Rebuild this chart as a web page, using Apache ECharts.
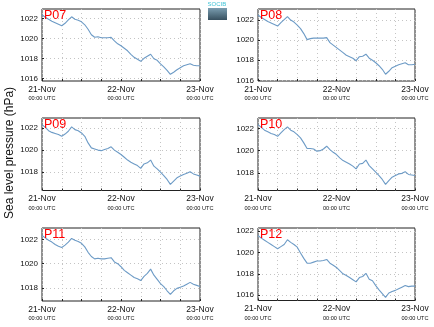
<!DOCTYPE html>
<html><head><meta charset="utf-8">
<script src="https://cdn.jsdelivr.net/npm/echarts@6/dist/echarts.min.js"></script>
<style>html,body{margin:0;padding:0;background:#fff}#c{width:434px;height:327px}</style>
</head><body><div id="c"></div>
<script>
// hours since 21-Nov 00:00 UTC (hourly)
const hours = Array.from({length: 49}, (_, i) => i);
const dateLabels = ['21-Nov', '22-Nov', '23-Nov'];
const timeLabel = '00:00 UTC';
const yTitle = 'Sea level pressure (hPa)';
const stations = ['P07', 'P08', 'P09', 'P10', 'P11', 'P12'];

const p07 = [1022.35,1022.1,1021.9,1021.7,1021.55,1021.4,1021.25,1021.5,1021.85,1022.15,1021.9,1021.8,1021.65,1021.35,1020.9,1020.35,1020.1,1020.15,1020.05,1020.05,1020.05,1020.1,1019.75,1019.45,1019.25,1019.0,1018.75,1018.4,1018.1,1017.9,1017.7,1018.0,1018.2,1018.4,1017.95,1017.8,1017.45,1017.15,1016.8,1016.4,1016.6,1016.85,1017.05,1017.25,1017.35,1017.45,1017.3,1017.25,1017.25];
const p08 = [1022.5,1022.25,1022.05,1021.85,1021.7,1021.55,1021.4,1021.75,1022.05,1022.35,1022.0,1021.8,1021.5,1021.15,1020.65,1020.05,1020.15,1020.2,1020.2,1020.2,1020.2,1020.25,1019.75,1019.5,1019.25,1019.0,1018.75,1018.5,1018.35,1018.2,1017.95,1018.35,1018.4,1018.6,1018.2,1018.0,1017.75,1017.45,1017.1,1016.6,1016.9,1017.25,1017.4,1017.55,1017.65,1017.75,1017.55,1017.55,1017.6];
const p09 = [1022.3,1022.05,1021.75,1021.6,1021.5,1021.4,1021.25,1021.45,1021.7,1022.1,1021.85,1021.75,1021.55,1021.25,1020.65,1020.2,1020.1,1020.0,1019.95,1020.05,1020.15,1020.3,1020.0,1019.8,1019.6,1019.35,1019.1,1018.9,1018.75,1018.6,1018.35,1018.75,1018.85,1019.1,1018.55,1018.3,1018.0,1017.7,1017.35,1016.9,1017.2,1017.5,1017.65,1017.8,1017.9,1018.05,1017.85,1017.75,1017.65];
const p10 = [1022.35,1022.1,1021.85,1021.7,1021.55,1021.45,1021.3,1021.6,1021.9,1022.15,1021.85,1021.7,1021.45,1021.15,1020.7,1020.2,1020.2,1020.15,1019.95,1020.0,1020.15,1020.4,1020.1,1019.85,1019.65,1019.35,1019.1,1018.95,1018.8,1018.6,1018.35,1018.8,1018.85,1019.15,1018.65,1018.35,1018.05,1017.75,1017.4,1016.95,1017.3,1017.6,1017.75,1017.9,1017.95,1018.1,1017.85,1017.8,1017.75];
const p11 = [1022.35,1022.15,1021.95,1021.8,1021.6,1021.45,1021.35,1021.55,1021.8,1022.1,1021.95,1021.85,1021.7,1021.4,1020.95,1020.6,1020.4,1020.45,1020.4,1020.4,1020.45,1020.5,1020.15,1020.0,1019.75,1019.45,1019.25,1019.05,1018.85,1018.75,1018.6,1018.95,1019.2,1019.55,1019.05,1018.7,1018.35,1018.1,1017.75,1017.45,1017.75,1017.95,1018.05,1018.15,1018.3,1018.45,1018.3,1018.2,1018.1];
const p12 = [1021.6,1021.35,1021.15,1020.95,1020.75,1020.55,1020.35,1020.55,1020.75,1021.2,1020.95,1020.75,1020.5,1019.95,1019.45,1019.0,1019.0,1019.1,1019.2,1019.2,1019.25,1019.35,1019.0,1018.8,1018.6,1018.3,1018.0,1017.85,1017.65,1017.45,1017.25,1017.65,1017.75,1018.05,1017.5,1017.35,1016.9,1016.5,1016.15,1015.8,1016.2,1016.35,1016.45,1016.6,1016.75,1016.9,1016.8,1016.85,1016.85];

const yTicks07 = [1016, 1018, 1020, 1022];
const yTicks08 = [1016, 1018, 1020, 1022];
const yTicks09 = [1018, 1020, 1022];
const yTicks10 = [1018, 1020, 1022];
const yTicks11 = [1018, 1020, 1022];
const yTicks12 = [1016, 1018, 1020, 1022];

const seriesData = [p07, p08, p09, p10, p11, p12];
const yTicks = [yTicks07, yTicks08, yTicks09, yTicks10, yTicks11, yTicks12];
const yMin = [1015.73, 1015.93, 1016.35, 1016.4, 1016.9, 1015.5];
const yMax = [1022.93, 1023.1, 1022.9, 1022.95, 1022.97, 1022.3];

const grids = [
  {left: 42, top: 9, width: 158, height: 72},
  {left: 258, top: 9, width: 157, height: 72},
  {left: 42, top: 118, width: 158, height: 72.5},
  {left: 258, top: 118, width: 157, height: 72.5},
  {left: 42, top: 228, width: 158, height: 73},
  {left: 258, top: 228, width: 157, height: 72.5}
];

const FONT = 'Liberation Sans, Arial, sans-serif';
const option = {
  animation: false,
  backgroundColor: '#fff',
  grid: grids.map(g => Object.assign({show: true, borderColor: '#222', borderWidth: 1, backgroundColor: 'transparent'}, g)),
  xAxis: grids.map((g, i) => ({
    type: 'value', gridIndex: i, min: 0, max: 48, interval: 6,
    axisLine: {show: false},
    axisTick: {show: true, inside: true, length: 2, lineStyle: {color: '#222'}},
    splitLine: {show: true, lineStyle: {color: '#c4c4c4', type: [1, 3], width: 1}},
    axisLabel: {
      showMinLabel: true, showMaxLabel: true, margin: 4, hideOverlap: false,
      formatter: v => (v % 24 === 0) ? '{d|' + dateLabels[v / 24] + '}\n{u|' + timeLabel + '}' : '',
      rich: {
        d: {fontSize: 8.5, lineHeight: 9, color: '#111', fontFamily: FONT},
        u: {fontSize: 5.6, lineHeight: 9, color: '#111', fontFamily: FONT}
      }
    }
  })),
  yAxis: grids.map((g, i) => ({
    type: 'value', gridIndex: i, min: yMin[i], max: yMax[i],
    axisLine: {show: false},
    axisTick: {show: true, inside: true, length: 2, customValues: yTicks[i], lineStyle: {color: '#222'}},
    splitLine: {show: true, lineStyle: {color: '#c4c4c4', type: [1, 3], width: 1}},
    axisLabel: {customValues: yTicks[i], formatter: v => String(Math.round(v)), fontSize: 8, color: '#111', fontFamily: FONT, margin: 4}
  })),
  series: seriesData.map((d, i) => ({
    type: 'line', xAxisIndex: i, yAxisIndex: i,
    data: hours.map((h, k) => [h, d[k]]),
    showSymbol: false, smooth: false,
    lineStyle: {color: '#6d9bc6', width: 1.1}
  })),
  graphic: [
    ...grids.map((g, i) => ({
      type: 'text', left: g.left + 2, top: g.top + 0.5, z: 10,
      style: {text: stations[i], fill: '#ff0000', font: '12.5px ' + FONT}
    })),
    {
      type: 'text', rotation: Math.PI / 2, x: 3.5, y: 219, z: 10,
      style: {text: yTitle, fill: '#111', font: '12px ' + FONT}
    },
    {
      type: 'rect', shape: {x: 208, y: 8, width: 19, height: 12},
      style: {fill: new echarts.graphic.LinearGradient(0, 0, 0, 1, [{offset: 0, color: '#7a9db0'}, {offset: 1, color: '#37505f'}])}
    },
    {
      type: 'text', x: 207.5, y: 1.5, z: 10,
      style: {text: 'SOCIB', fill: '#3fc3d6', font: '6px ' + FONT}
    }
  ]
};
const chart = echarts.init(document.getElementById('c'), null, {renderer: 'canvas'});
chart.setOption(option);
</script></body></html>
